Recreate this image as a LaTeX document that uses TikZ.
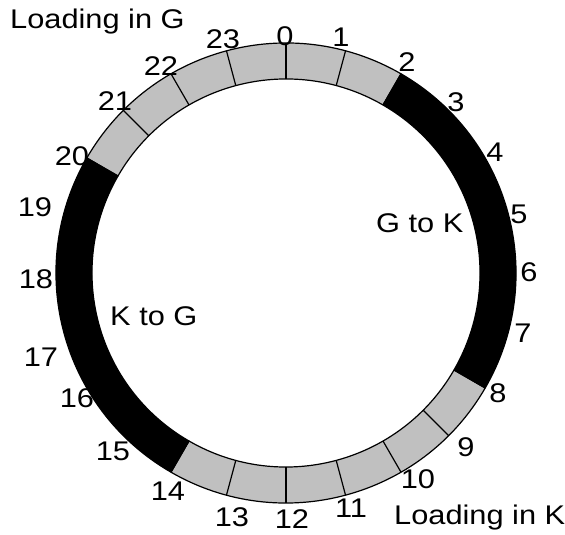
\documentclass[tikz,border=0pt]{standalone}
\usepackage{fontspec}
\setmainfont{Liberation Sans}[FakeStretch=1.14]
\definecolor{ringgray}{HTML}{C0C0C0}
\tikzset{
  lbl/.style={font=\fontsize{27}{32}\selectfont, inner sep=0pt},
  seg/.style={draw=black, line width=1.2pt, line join=round},
  tick/.style={draw=black, line width=1.2pt}
}
\begin{document}
\begin{tikzpicture}[x=1pt,y=1pt]
\useasboundingbox (0,0) rectangle (565,535);
\coordinate (C) at (286,262);
\def\Ro{230}
\def\Ri{194}
% gray segments
\path[seg, fill=ringgray] ([shift={(60:\Ro)}]C) arc[start angle=60,end angle=150,radius=\Ro]
  -- ([shift={(150:\Ri)}]C) arc[start angle=150,end angle=60,radius=\Ri] -- cycle;
\path[seg, fill=ringgray] ([shift={(-120:\Ro)}]C) arc[start angle=-120,end angle=-30,radius=\Ro]
  -- ([shift={(-30:\Ri)}]C) arc[start angle=-30,end angle=-120,radius=\Ri] -- cycle;
% black segments
\path[seg, fill=black] ([shift={(-30:\Ro)}]C) arc[start angle=-30,end angle=60,radius=\Ro]
  -- ([shift={(60:\Ri)}]C) arc[start angle=60,end angle=-30,radius=\Ri] -- cycle;
\path[seg, fill=black] ([shift={(150:\Ro)}]C) arc[start angle=150,end angle=240,radius=\Ro]
  -- ([shift={(240:\Ri)}]C) arc[start angle=240,end angle=150,radius=\Ri] -- cycle;
% ticks
\foreach \h in {21,22,23,0,1,9,10,11,12,13}{
  \pgfmathsetmacro{\a}{90-15*\h}
  \path[tick] ([shift={(\a:\Ri)}]C) -- ([shift={(\a:\Ro)}]C);
}
% hour labels
\node[lbl] (h0) at (285,499) {0};
\node[lbl] (h1) at (341,498) {1};
\node[lbl] (h2) at (407,473) {2};
\node[lbl] (h3) at (456,433) {3};
\node[lbl] (h4) at (495,383) {4};
\node[lbl] (h5) at (519,321) {5};
\node[lbl] (h6) at (529,263) {6};
\node[lbl] (h7) at (523,202) {7};
\node[lbl] (h8) at (498,142) {8};
\node[lbl] (h9) at (466,88) {9};
\node[lbl] (h10) at (418,56) {10};
\node[lbl] (h11) at (351,27) {11};
\node[lbl] (h12) at (292,16) {12};
\node[lbl] (h13) at (232,18) {13};
\node[lbl] (h14) at (168,44) {14};
\node[lbl] (h15) at (113,84) {15};
\node[lbl] (h16) at (77,137) {16};
\node[lbl] (h17) at (41,178) {17};
\node[lbl] (h18) at (36,256) {18};
\node[lbl] (h19) at (35,328) {19};
\node[lbl] (h20) at (72,379) {20};
\node[lbl] (h21) at (115,434) {21};
\node[lbl] (h22) at (161,469) {22};
\node[lbl] (h23) at (223,496) {23};
% texts
\node[lbl, anchor=base west] (lg) at (10,506.5) {Loading in G};
\node[lbl, anchor=base west] (lk) at (394,10) {Loading in K};
\node[lbl, anchor=base west] (gk) at (376,302) {G to K};
\node[lbl, anchor=base west] (kg) at (110,209) {K to G};
\end{tikzpicture}
\end{document}
